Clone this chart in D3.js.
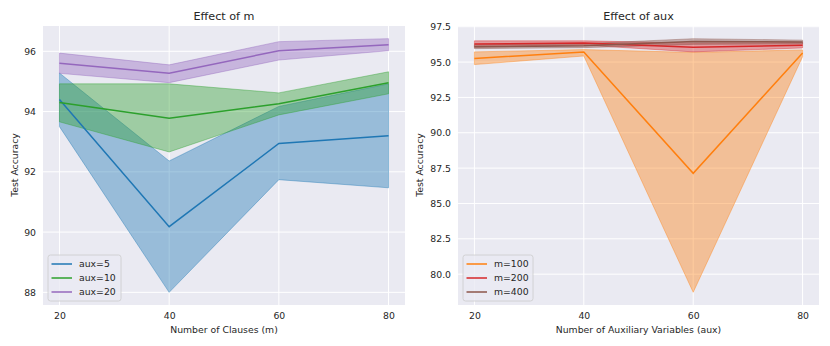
<!DOCTYPE html>
<html>
<head>
<meta charset="utf-8">
<script src="https://cdn.jsdelivr.net/npm/d3@7"></script>
<style>
  body { margin: 0; background: #fff; }
  text { font-family: "DejaVu Sans", sans-serif; fill: #262626; }
</style>
</head>
<body>
<script>
// x positions shared by both panels
const xValues = [20, 40, 60, 80];

// left panel: effect of m, one series per aux
const auxNames = ["aux=5", "aux=10", "aux=20"];
const aux5Mean = [94.40, 90.18, 92.94, 93.20];
const aux5Low = [93.50, 88.00, 91.74, 91.47];
const aux5High = [95.28, 92.36, 94.17, 94.92];
const aux10Mean = [94.30, 93.78, 94.26, 94.96];
const aux10Low = [93.66, 92.66, 93.89, 94.59];
const aux10High = [94.92, 94.92, 94.62, 95.32];
const aux20Mean = [95.60, 95.27, 96.02, 96.22];
const aux20Low = [95.27, 94.96, 95.71, 96.02];
const aux20High = [95.94, 95.55, 96.32, 96.42];

// right panel: effect of aux, one series per m
const mNames = ["m=100", "m=200", "m=400"];
const m100Mean = [95.26, 95.71, 87.13, 95.64];
const m100Low = [94.82, 95.43, 78.72, 95.38];
const m100High = [95.72, 95.88, 95.68, 95.86];
const m200Mean = [96.27, 96.35, 96.05, 96.18];
const m200Low = [96.05, 96.20, 95.72, 96.00];
const m200High = [96.50, 96.50, 96.35, 96.38];
const m400Mean = [96.08, 96.15, 96.45, 96.42];
const m400Low = [95.95, 96.02, 96.25, 96.28];
const m400High = [96.22, 96.30, 96.65, 96.55];

const leftTicks = [88, 90, 92, 94, 96];
const rightTicks = [80, 82.5, 85, 87.5, 90, 92.5, 95, 97.5];

const W = 830, H = 346;
const fs = 9.3;
const svg = d3.select("body").append("svg")
  .attr("width", W).attr("height", H);

function panel(opt) {
  const x = d3.scaleLinear().domain([17, 83]).range([opt.left, opt.right]);
  const y = d3.scaleLinear().domain(opt.yDomain).range([305, 26]);
  const g = svg.append("g");

  g.append("rect")
    .attr("x", opt.left).attr("y", 26)
    .attr("width", opt.right - opt.left).attr("height", 279)
    .attr("fill", "#eaeaf2");

  // grid
  g.append("g").selectAll("line").data(xValues).enter().append("line")
    .attr("x1", d => x(d)).attr("x2", d => x(d))
    .attr("y1", 26).attr("y2", 305)
    .attr("stroke", "#fff").attr("stroke-width", 1);
  g.append("g").selectAll("line").data(opt.ticks).enter().append("line")
    .attr("y1", d => y(d)).attr("y2", d => y(d))
    .attr("x1", opt.left).attr("x2", opt.right)
    .attr("stroke", "#fff").attr("stroke-width", 1);

  // axes through d3 (no domain line, no tick marks)
  const ax = g.append("g").attr("transform", "translate(0,305)")
    .call(d3.axisBottom(x).tickValues(xValues).tickSize(0).tickPadding(7));
  const ay = g.append("g").attr("transform", "translate(" + opt.left + ",0)")
    .call(d3.axisLeft(y).tickValues(opt.ticks).tickSize(0).tickPadding(7)
      .tickFormat(opt.fmt));
  [ax, ay].forEach(a => {
    a.select(".domain").remove();
    a.selectAll("text").attr("font-size", fs).attr("fill", "#262626")
      .attr("font-family", "DejaVu Sans, sans-serif");
  });

  const area = d3.area()
    .x((d, i) => x(xValues[i]))
    .y0(d => y(d[0])).y1(d => y(d[1]));
  const line = d3.line()
    .x((d, i) => x(xValues[i])).y(d => y(d));

  opt.series.forEach(s => {
    const band = s.low.map((v, i) => [v, s.high[i]]);
    g.append("path").datum(band)
      .attr("d", area)
      .attr("fill", s.color).attr("fill-opacity", 0.4)
      .attr("stroke", s.color).attr("stroke-opacity", 0.4).attr("stroke-width", 1);
  });
  opt.series.forEach(s => {
    g.append("path").datum(s.mean)
      .attr("d", line)
      .attr("fill", "none").attr("stroke", s.color).attr("stroke-width", 1.5);
  });

  // title and labels
  g.append("text")
    .attr("x", (opt.left + opt.right) / 2).attr("y", 19.5)
    .attr("text-anchor", "middle").attr("font-size", 11.2)
    .text(opt.title);
  g.append("text")
    .attr("x", (opt.left + opt.right) / 2).attr("y", 332.5)
    .attr("text-anchor", "middle").attr("font-size", fs)
    .text(opt.xLabel);
  g.append("text")
    .attr("transform", "translate(" + (opt.yLabelX + 3) + ",165) rotate(-90)")
    .attr("text-anchor", "middle").attr("font-size", fs)
    .text("Test Accuracy");

  // legend
  const lg = g.append("g").attr("transform", "translate(" + (opt.left + 5) + ",255)");
  lg.append("rect")
    .attr("width", opt.legendW).attr("height", 46).attr("rx", 2.5)
    .attr("fill", "#eaeaf2").attr("fill-opacity", 0.8)
    .attr("stroke", "#cccccc").attr("stroke-width", 0.8);
  opt.series.forEach((s, i) => {
    const ly = 9 + i * 14;
    lg.append("line")
      .attr("x1", 3.5).attr("x2", 24).attr("y1", ly).attr("y2", ly)
      .attr("stroke", s.color).attr("stroke-width", 1.5);
    lg.append("text")
      .attr("x", 31).attr("y", ly + 3.3).attr("font-size", fs)
      .text(s.name);
  });
}

panel({
  left: 43, right: 405,
  yDomain: [87.58, 96.84],
  ticks: leftTicks,
  fmt: d3.format("d"),
  title: "Effect of m",
  xLabel: "Number of Clauses (m)",
  yLabelX: 15,
  legendW: 73,
  series: [
    { name: auxNames[0], color: "#1f77b4", mean: aux5Mean, low: aux5Low, high: aux5High },
    { name: auxNames[1], color: "#2ca02c", mean: aux10Mean, low: aux10Low, high: aux10High },
    { name: auxNames[2], color: "#9467bd", mean: aux20Mean, low: aux20Low, high: aux20High }
  ]
});

panel({
  left: 458, right: 819,
  yDomain: [77.82, 97.55],
  ticks: rightTicks,
  fmt: d3.format(".1f"),
  title: "Effect of aux",
  xLabel: "Number of Auxiliary Variables (aux)",
  yLabelX: 420,
  legendW: 70,
  series: [
    { name: mNames[0], color: "#ff7f0e", mean: m100Mean, low: m100Low, high: m100High },
    { name: mNames[1], color: "#d62728", mean: m200Mean, low: m200Low, high: m200High },
    { name: mNames[2], color: "#8c564b", mean: m400Mean, low: m400Low, high: m400High }
  ]
});
</script>
</body>
</html>
